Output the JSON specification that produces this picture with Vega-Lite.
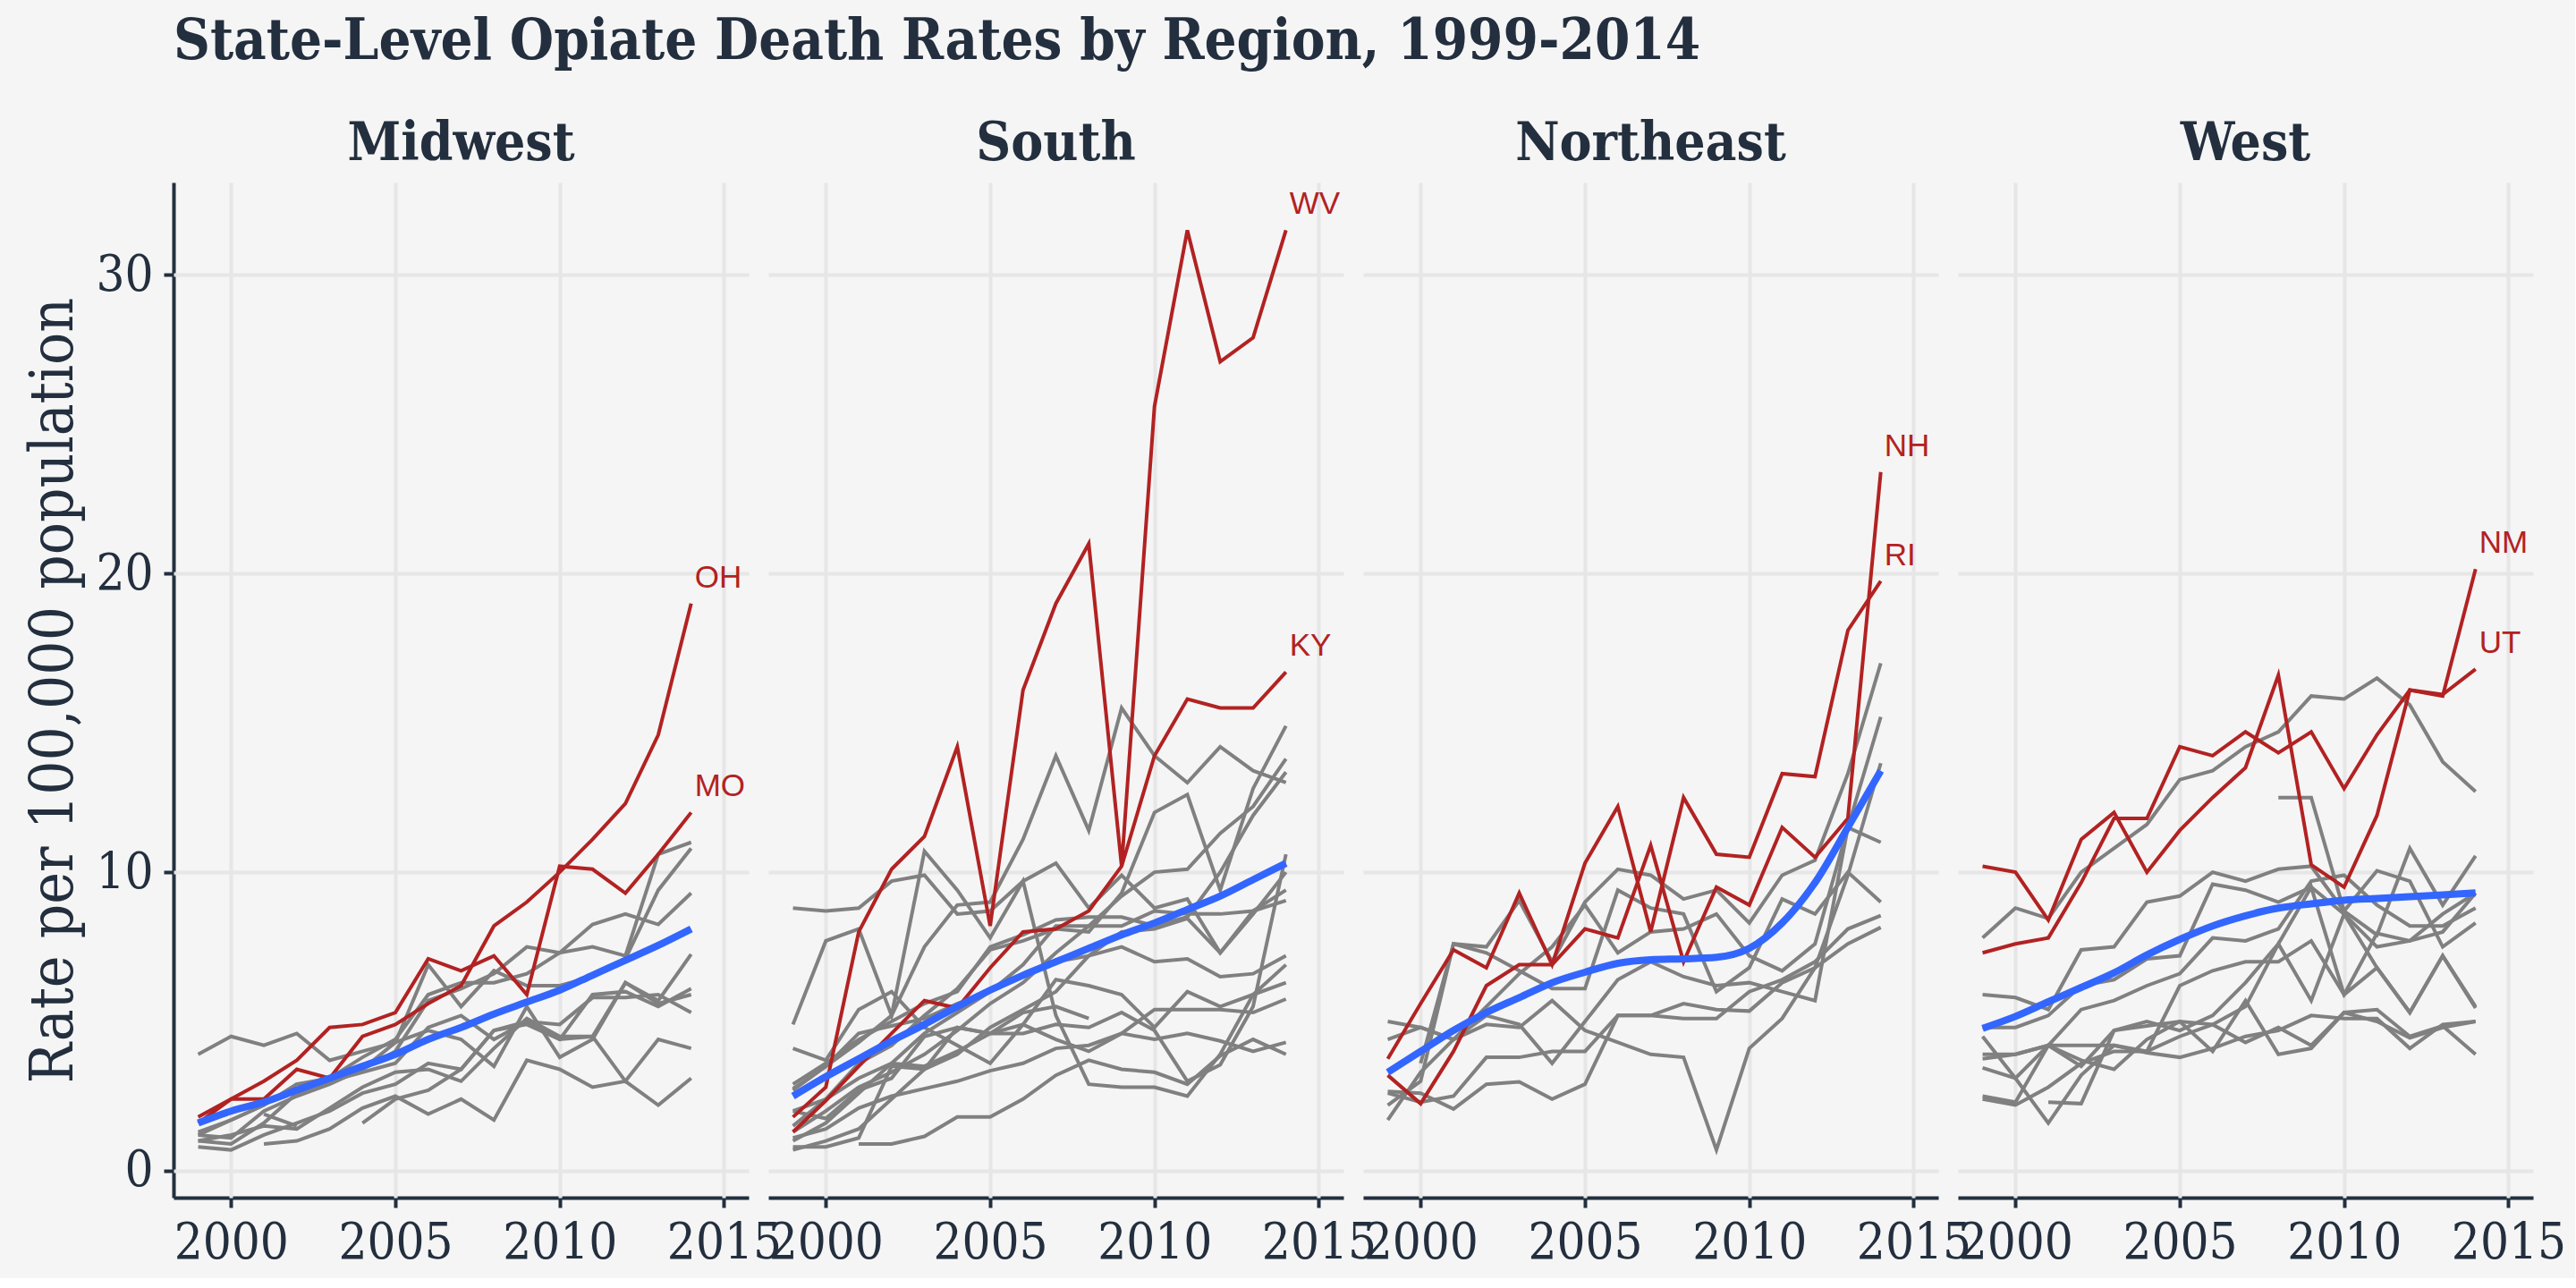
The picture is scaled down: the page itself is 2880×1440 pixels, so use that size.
{
  "$schema": "https://vega.github.io/schema/vega-lite/v6.json",
  "background": "#f5f5f5",
  "padding": {"left": 26, "top": 16, "right": 10, "bottom": 12},
  "title": {
    "text": "State-Level Opiate Death Rates by Region, 1999-2014",
    "anchor": "start",
    "frame": "group",
    "font": "DejaVu Serif Condensed, DejaVu Serif",
    "fontSize": 63,
    "fontWeight": "bold",
    "color": "#232f3e",
    "offset": 52
  },
  "datasets": {
    "states": [
      {"s": "OH", "r": "Midwest", "k": "red"}, {"s": "MO", "r": "Midwest", "k": "red"},
      {"s": "WI", "r": "Midwest", "k": "grey"}, {"s": "IL", "r": "Midwest", "k": "grey"},
      {"s": "IN", "r": "Midwest", "k": "grey"}, {"s": "MI", "r": "Midwest", "k": "grey"},
      {"s": "KS", "r": "Midwest", "k": "grey"}, {"s": "MN", "r": "Midwest", "k": "grey"},
      {"s": "IA", "r": "Midwest", "k": "grey"}, {"s": "NE", "r": "Midwest", "k": "grey"},
      {"s": "ND", "r": "Midwest", "k": "grey"}, {"s": "SD", "r": "Midwest", "k": "grey"},
      {"s": "T-MW", "r": "Midwest", "k": "trend"},
      {"s": "WV", "r": "South", "k": "red"}, {"s": "KY", "r": "South", "k": "red"},
      {"s": "FL", "r": "South", "k": "grey"}, {"s": "TN", "r": "South", "k": "grey"},
      {"s": "MD", "r": "South", "k": "grey"}, {"s": "DE", "r": "South", "k": "grey"},
      {"s": "OK", "r": "South", "k": "grey"}, {"s": "DC", "r": "South", "k": "grey"},
      {"s": "LA", "r": "South", "k": "grey"}, {"s": "TX", "r": "South", "k": "grey"},
      {"s": "AR", "r": "South", "k": "grey"}, {"s": "MS", "r": "South", "k": "grey"},
      {"s": "GA", "r": "South", "k": "grey"}, {"s": "AL", "r": "South", "k": "grey"},
      {"s": "SC", "r": "South", "k": "grey"}, {"s": "NC", "r": "South", "k": "grey"},
      {"s": "VA", "r": "South", "k": "grey"},
      {"s": "T-S", "r": "South", "k": "trend"},
      {"s": "NH", "r": "Northeast", "k": "red"}, {"s": "RI", "r": "Northeast", "k": "red"},
      {"s": "NY", "r": "Northeast", "k": "grey"}, {"s": "MA", "r": "Northeast", "k": "grey"},
      {"s": "VT", "r": "Northeast", "k": "grey"}, {"s": "ME", "r": "Northeast", "k": "grey"},
      {"s": "CT", "r": "Northeast", "k": "grey"}, {"s": "PA", "r": "Northeast", "k": "grey"},
      {"s": "NJ", "r": "Northeast", "k": "grey"},
      {"s": "T-NE", "r": "Northeast", "k": "trend"},
      {"s": "NM", "r": "West", "k": "red"}, {"s": "UT", "r": "West", "k": "red"},
      {"s": "WA", "r": "West", "k": "grey"}, {"s": "OR", "r": "West", "k": "grey"},
      {"s": "CO", "r": "West", "k": "grey"}, {"s": "ID", "r": "West", "k": "grey"},
      {"s": "CA", "r": "West", "k": "grey"}, {"s": "WY", "r": "West", "k": "grey"},
      {"s": "AZ", "r": "West", "k": "grey"}, {"s": "MT", "r": "West", "k": "grey"},
      {"s": "HI", "r": "West", "k": "grey"}, {"s": "AK", "r": "West", "k": "grey"},
      {"s": "NV", "r": "West", "k": "grey"},
      {"s": "T-W", "r": "West", "k": "trend"}
    ],
    "rates": [
      {"s":"OH","y":1999,"v":1.6},{"s":"OH","y":2000,"v":2.4},{"s":"OH","y":2001,"v":2.4},{"s":"OH","y":2002,"v":3.4},{"s":"OH","y":2003,"v":3.1},{"s":"OH","y":2004,"v":4.5},{"s":"OH","y":2005,"v":4.9},{"s":"OH","y":2006,"v":5.6},{"s":"OH","y":2007,"v":6.2},{"s":"OH","y":2008,"v":8.2},{"s":"OH","y":2009,"v":9.0},{"s":"OH","y":2010,"v":10.0},{"s":"OH","y":2011,"v":11.1},{"s":"OH","y":2012,"v":12.3},{"s":"OH","y":2013,"v":14.6},{"s":"OH","y":2014,"v":19.0},
      {"s":"MO","y":1999,"v":1.8},{"s":"MO","y":2000,"v":2.4},{"s":"MO","y":2001,"v":3.0},{"s":"MO","y":2002,"v":3.7},{"s":"MO","y":2003,"v":4.8},{"s":"MO","y":2004,"v":4.9},{"s":"MO","y":2005,"v":5.3},{"s":"MO","y":2006,"v":7.1},{"s":"MO","y":2007,"v":6.7},{"s":"MO","y":2008,"v":7.2},{"s":"MO","y":2009,"v":5.9},{"s":"MO","y":2010,"v":10.2},{"s":"MO","y":2011,"v":10.1},{"s":"MO","y":2012,"v":9.3},{"s":"MO","y":2013,"v":10.6},{"s":"MO","y":2014,"v":12.0},
      {"s":"WI","y":1999,"v":3.9},{"s":"WI","y":2000,"v":4.5},{"s":"WI","y":2001,"v":4.2},{"s":"WI","y":2002,"v":4.6},{"s":"WI","y":2003,"v":3.7},{"s":"WI","y":2004,"v":4.0},{"s":"WI","y":2005,"v":4.3},{"s":"WI","y":2006,"v":4.7},{"s":"WI","y":2007,"v":4.4},{"s":"WI","y":2008,"v":3.5},{"s":"WI","y":2009,"v":5.5},{"s":"WI","y":2010,"v":3.8},{"s":"WI","y":2011,"v":4.4},{"s":"WI","y":2012,"v":6.3},{"s":"WI","y":2013,"v":5.6},{"s":"WI","y":2014,"v":5.9},
      {"s":"IL","y":1999,"v":1.2},{"s":"IL","y":2000,"v":1.1},{"s":"IL","y":2001,"v":2.0},{"s":"IL","y":2002,"v":2.5},{"s":"IL","y":2003,"v":2.9},{"s":"IL","y":2004,"v":3.4},{"s":"IL","y":2005,"v":4.0},{"s":"IL","y":2006,"v":5.7},{"s":"IL","y":2007,"v":6.1},{"s":"IL","y":2008,"v":6.6},{"s":"IL","y":2009,"v":7.5},{"s":"IL","y":2010,"v":7.3},{"s":"IL","y":2011,"v":7.5},{"s":"IL","y":2012,"v":7.2},{"s":"IL","y":2013,"v":10.6},{"s":"IL","y":2014,"v":11.0},
      {"s":"IN","y":1999,"v":1.0},{"s":"IN","y":2000,"v":0.9},{"s":"IN","y":2001,"v":1.6},{"s":"IN","y":2002,"v":2.6},{"s":"IN","y":2003,"v":3.0},{"s":"IN","y":2004,"v":3.4},{"s":"IN","y":2005,"v":4.3},{"s":"IN","y":2006,"v":6.9},{"s":"IN","y":2007,"v":5.5},{"s":"IN","y":2008,"v":6.7},{"s":"IN","y":2009,"v":6.2},{"s":"IN","y":2010,"v":6.2},{"s":"IN","y":2011,"v":6.5},{"s":"IN","y":2012,"v":7.1},{"s":"IN","y":2013,"v":9.4},{"s":"IN","y":2014,"v":10.8},
      {"s":"MI","y":1999,"v":1.3},{"s":"MI","y":2000,"v":1.7},{"s":"MI","y":2001,"v":2.2},{"s":"MI","y":2002,"v":2.9},{"s":"MI","y":2003,"v":3.1},{"s":"MI","y":2004,"v":3.8},{"s":"MI","y":2005,"v":4.4},{"s":"MI","y":2006,"v":5.9},{"s":"MI","y":2007,"v":6.3},{"s":"MI","y":2008,"v":6.3},{"s":"MI","y":2009,"v":6.6},{"s":"MI","y":2010,"v":7.3},{"s":"MI","y":2011,"v":8.25},{"s":"MI","y":2012,"v":8.6},{"s":"MI","y":2013,"v":8.25},{"s":"MI","y":2014,"v":9.3},
      {"s":"KS","y":1999,"v":1.2},{"s":"KS","y":2000,"v":1.7},{"s":"KS","y":2001,"v":2.2},{"s":"KS","y":2002,"v":2.9},{"s":"KS","y":2003,"v":3.0},{"s":"KS","y":2004,"v":3.3},{"s":"KS","y":2005,"v":3.6},{"s":"KS","y":2006,"v":4.8},{"s":"KS","y":2007,"v":5.2},{"s":"KS","y":2008,"v":4.4},{"s":"KS","y":2009,"v":5.0},{"s":"KS","y":2010,"v":4.4},{"s":"KS","y":2011,"v":4.5},{"s":"KS","y":2012,"v":6.3},{"s":"KS","y":2013,"v":5.7},{"s":"KS","y":2014,"v":7.25},
      {"s":"MN","y":1999,"v":0.8},{"s":"MN","y":2000,"v":0.7},{"s":"MN","y":2001,"v":1.2},{"s":"MN","y":2002,"v":1.6},{"s":"MN","y":2003,"v":2.0},{"s":"MN","y":2004,"v":2.6},{"s":"MN","y":2005,"v":2.9},{"s":"MN","y":2006,"v":3.6},{"s":"MN","y":2007,"v":3.4},{"s":"MN","y":2008,"v":4.7},{"s":"MN","y":2009,"v":5.0},{"s":"MN","y":2010,"v":4.9},{"s":"MN","y":2011,"v":5.8},{"s":"MN","y":2012,"v":5.8},{"s":"MN","y":2013,"v":5.9},{"s":"MN","y":2014,"v":5.3},
      {"s":"IA","y":1999,"v":1.0},{"s":"IA","y":2000,"v":1.2},{"s":"IA","y":2001,"v":1.5},{"s":"IA","y":2002,"v":1.4},{"s":"IA","y":2003,"v":2.1},{"s":"IA","y":2004,"v":2.8},{"s":"IA","y":2005,"v":3.3},{"s":"IA","y":2006,"v":3.4},{"s":"IA","y":2007,"v":3.0},{"s":"IA","y":2008,"v":4.1},{"s":"IA","y":2009,"v":5.1},{"s":"IA","y":2010,"v":4.5},{"s":"IA","y":2011,"v":4.5},{"s":"IA","y":2012,"v":3.0},{"s":"IA","y":2013,"v":4.4},{"s":"IA","y":2014,"v":4.1},
      {"s":"NE","y":2001,"v":0.9},{"s":"NE","y":2002,"v":1.0},{"s":"NE","y":2003,"v":1.4},{"s":"NE","y":2004,"v":2.1},{"s":"NE","y":2005,"v":2.5},{"s":"NE","y":2006,"v":1.9},{"s":"NE","y":2007,"v":2.4},{"s":"NE","y":2008,"v":1.7},{"s":"NE","y":2009,"v":3.7},{"s":"NE","y":2010,"v":3.4},{"s":"NE","y":2011,"v":2.8},{"s":"NE","y":2012,"v":3.0},{"s":"NE","y":2013,"v":2.2},{"s":"NE","y":2014,"v":3.1},
      {"s":"ND","y":2004,"v":1.6},{"s":"ND","y":2005,"v":2.4},{"s":"ND","y":2006,"v":2.7},{"s":"ND","y":2007,"v":3.4},{"s":"ND","y":2008,"v":4.7},{"s":"ND","y":2009,"v":4.9},{"s":"ND","y":2010,"v":4.4},{"s":"ND","y":2011,"v":5.9},{"s":"ND","y":2012,"v":6.0},{"s":"ND","y":2013,"v":5.5},{"s":"ND","y":2014,"v":6.1},
      {"s":"SD","y":2001,"v":1.9},{"s":"SD","y":2002,"v":1.5},
      {"s":"T-MW","y":1999,"v":1.6},{"s":"T-MW","y":2000,"v":2.0},{"s":"T-MW","y":2001,"v":2.3},{"s":"T-MW","y":2002,"v":2.7},{"s":"T-MW","y":2003,"v":3.1},{"s":"T-MW","y":2004,"v":3.5},{"s":"T-MW","y":2005,"v":3.9},{"s":"T-MW","y":2006,"v":4.4},{"s":"T-MW","y":2007,"v":4.8},{"s":"T-MW","y":2008,"v":5.25},{"s":"T-MW","y":2009,"v":5.65},{"s":"T-MW","y":2010,"v":6.05},{"s":"T-MW","y":2011,"v":6.55},{"s":"T-MW","y":2012,"v":7.05},{"s":"T-MW","y":2013,"v":7.55},{"s":"T-MW","y":2014,"v":8.1},
      {"s":"WV","y":1999,"v":1.8},{"s":"WV","y":2000,"v":2.8},{"s":"WV","y":2001,"v":8.0},{"s":"WV","y":2002,"v":10.1},{"s":"WV","y":2003,"v":11.2},{"s":"WV","y":2004,"v":14.2},{"s":"WV","y":2005,"v":8.2},{"s":"WV","y":2006,"v":16.1},{"s":"WV","y":2007,"v":19.0},{"s":"WV","y":2008,"v":21.0},{"s":"WV","y":2009,"v":10.2},{"s":"WV","y":2010,"v":25.6},{"s":"WV","y":2011,"v":31.5},{"s":"WV","y":2012,"v":27.1},{"s":"WV","y":2013,"v":27.9},{"s":"WV","y":2014,"v":31.5},
      {"s":"KY","y":1999,"v":1.3},{"s":"KY","y":2000,"v":2.35},{"s":"KY","y":2001,"v":3.5},{"s":"KY","y":2002,"v":4.6},{"s":"KY","y":2003,"v":5.7},{"s":"KY","y":2004,"v":5.45},{"s":"KY","y":2005,"v":6.8},{"s":"KY","y":2006,"v":8.0},{"s":"KY","y":2007,"v":8.1},{"s":"KY","y":2008,"v":8.7},{"s":"KY","y":2009,"v":10.2},{"s":"KY","y":2010,"v":13.9},{"s":"KY","y":2011,"v":15.8},{"s":"KY","y":2012,"v":15.5},{"s":"KY","y":2013,"v":15.5},{"s":"KY","y":2014,"v":16.7},
      {"s":"FL","y":1999,"v":2.7},{"s":"FL","y":2000,"v":3.5},{"s":"FL","y":2001,"v":4.3},{"s":"FL","y":2002,"v":5.2},{"s":"FL","y":2003,"v":7.5},{"s":"FL","y":2004,"v":8.9},{"s":"FL","y":2005,"v":9.0},{"s":"FL","y":2006,"v":11.1},{"s":"FL","y":2007,"v":13.9},{"s":"FL","y":2008,"v":11.4},{"s":"FL","y":2009,"v":15.5},{"s":"FL","y":2010,"v":13.9},{"s":"FL","y":2011,"v":13.0},{"s":"FL","y":2012,"v":14.2},{"s":"FL","y":2013,"v":13.4},{"s":"FL","y":2014,"v":13.0},
      {"s":"TN","y":1999,"v":8.8},{"s":"TN","y":2000,"v":8.7},{"s":"TN","y":2001,"v":8.8},{"s":"TN","y":2002,"v":9.7},{"s":"TN","y":2003,"v":9.9},{"s":"TN","y":2004,"v":8.6},{"s":"TN","y":2005,"v":8.7},{"s":"TN","y":2006,"v":9.7},{"s":"TN","y":2007,"v":10.3},{"s":"TN","y":2008,"v":8.8},{"s":"TN","y":2009,"v":9.9},{"s":"TN","y":2010,"v":8.8},{"s":"TN","y":2011,"v":9.1},{"s":"TN","y":2012,"v":7.3},{"s":"TN","y":2013,"v":8.6},{"s":"TN","y":2014,"v":10.0},
      {"s":"MD","y":1999,"v":1.5},{"s":"MD","y":2000,"v":2.4},{"s":"MD","y":2001,"v":3.6},{"s":"MD","y":2002,"v":4.2},{"s":"MD","y":2003,"v":5.2},{"s":"MD","y":2004,"v":6.1},{"s":"MD","y":2005,"v":7.4},{"s":"MD","y":2006,"v":7.7},{"s":"MD","y":2007,"v":8.1},{"s":"MD","y":2008,"v":8.0},{"s":"MD","y":2009,"v":9.3},{"s":"MD","y":2010,"v":12.0},{"s":"MD","y":2011,"v":12.6},{"s":"MD","y":2012,"v":9.4},{"s":"MD","y":2013,"v":12.8},{"s":"MD","y":2014,"v":14.9},
      {"s":"DE","y":1999,"v":1.3},{"s":"DE","y":2000,"v":2.0},{"s":"DE","y":2001,"v":2.8},{"s":"DE","y":2002,"v":3.3},{"s":"DE","y":2003,"v":3.9},{"s":"DE","y":2004,"v":4.7},{"s":"DE","y":2005,"v":5.6},{"s":"DE","y":2006,"v":6.3},{"s":"DE","y":2007,"v":7.3},{"s":"DE","y":2008,"v":8.2},{"s":"DE","y":2009,"v":9.2},{"s":"DE","y":2010,"v":10.0},{"s":"DE","y":2011,"v":10.1},{"s":"DE","y":2012,"v":11.3},{"s":"DE","y":2013,"v":12.2},{"s":"DE","y":2014,"v":13.8},
      {"s":"OK","y":1999,"v":2.9},{"s":"OK","y":2000,"v":3.6},{"s":"OK","y":2001,"v":4.4},{"s":"OK","y":2002,"v":5.0},{"s":"OK","y":2003,"v":5.6},{"s":"OK","y":2004,"v":6.0},{"s":"OK","y":2005,"v":7.5},{"s":"OK","y":2006,"v":7.9},{"s":"OK","y":2007,"v":8.4},{"s":"OK","y":2008,"v":8.5},{"s":"OK","y":2009,"v":8.5},{"s":"OK","y":2010,"v":8.2},{"s":"OK","y":2011,"v":8.5},{"s":"OK","y":2012,"v":10.0},{"s":"OK","y":2013,"v":11.9},{"s":"OK","y":2014,"v":13.35},
      {"s":"DC","y":1999,"v":2.0},{"s":"DC","y":2000,"v":2.4},{"s":"DC","y":2001,"v":3.1},{"s":"DC","y":2002,"v":3.6},{"s":"DC","y":2003,"v":3.5},{"s":"DC","y":2004,"v":4.0},{"s":"DC","y":2005,"v":4.6},{"s":"DC","y":2006,"v":4.6},{"s":"DC","y":2007,"v":4.9},{"s":"DC","y":2008,"v":4.8},{"s":"DC","y":2009,"v":5.3},{"s":"DC","y":2010,"v":4.7},{"s":"DC","y":2011,"v":3.0},{"s":"DC","y":2012,"v":3.55},{"s":"DC","y":2013,"v":5.5},{"s":"DC","y":2014,"v":10.6},
      {"s":"LA","y":1999,"v":4.9},{"s":"LA","y":2000,"v":7.7},{"s":"LA","y":2001,"v":8.1},{"s":"LA","y":2002,"v":5.2},{"s":"LA","y":2003,"v":10.7},{"s":"LA","y":2004,"v":9.4},{"s":"LA","y":2005,"v":7.8},{"s":"LA","y":2006,"v":9.7},{"s":"LA","y":2007,"v":5.2},{"s":"LA","y":2008,"v":2.9},{"s":"LA","y":2009,"v":2.8},{"s":"LA","y":2010,"v":2.8},{"s":"LA","y":2011,"v":2.5},{"s":"LA","y":2012,"v":3.9},{"s":"LA","y":2013,"v":5.9},{"s":"LA","y":2014,"v":6.9},
      {"s":"TX","y":1999,"v":4.1},{"s":"TX","y":2000,"v":3.7},{"s":"TX","y":2001,"v":5.4},{"s":"TX","y":2002,"v":6.0},{"s":"TX","y":2003,"v":4.8},{"s":"TX","y":2004,"v":4.2},{"s":"TX","y":2005,"v":3.6},{"s":"TX","y":2006,"v":4.9},{"s":"TX","y":2007,"v":4.4},{"s":"TX","y":2008,"v":4.0},{"s":"TX","y":2009,"v":4.6},{"s":"TX","y":2010,"v":4.4},{"s":"TX","y":2011,"v":4.6},{"s":"TX","y":2012,"v":4.35},{"s":"TX","y":2013,"v":4.0},{"s":"TX","y":2014,"v":4.3},
      {"s":"AR","y":1999,"v":0.8},{"s":"AR","y":2000,"v":0.8},{"s":"AR","y":2001,"v":1.1},{"s":"AR","y":2002,"v":3.5},{"s":"AR","y":2003,"v":3.4},{"s":"AR","y":2004,"v":4.8},{"s":"AR","y":2005,"v":4.6},{"s":"AR","y":2006,"v":5.3},{"s":"AR","y":2007,"v":5.5},{"s":"AR","y":2008,"v":5.1},
      {"s":"MS","y":2001,"v":0.9},{"s":"MS","y":2002,"v":0.9},{"s":"MS","y":2003,"v":1.15},{"s":"MS","y":2004,"v":1.8},{"s":"MS","y":2005,"v":1.8},{"s":"MS","y":2006,"v":2.4},{"s":"MS","y":2007,"v":3.2},{"s":"MS","y":2008,"v":3.7},{"s":"MS","y":2009,"v":3.4},{"s":"MS","y":2010,"v":3.3},{"s":"MS","y":2011,"v":2.9},{"s":"MS","y":2012,"v":3.85},{"s":"MS","y":2013,"v":4.4},{"s":"MS","y":2014,"v":3.9},
      {"s":"GA","y":1999,"v":1.1},{"s":"GA","y":2000,"v":1.4},{"s":"GA","y":2001,"v":2.1},{"s":"GA","y":2002,"v":2.5},{"s":"GA","y":2003,"v":2.75},{"s":"GA","y":2004,"v":3.0},{"s":"GA","y":2005,"v":3.35},{"s":"GA","y":2006,"v":3.6},{"s":"GA","y":2007,"v":4.1},{"s":"GA","y":2008,"v":4.2},{"s":"GA","y":2009,"v":4.6},{"s":"GA","y":2010,"v":5.4},{"s":"GA","y":2011,"v":5.4},{"s":"GA","y":2012,"v":5.4},{"s":"GA","y":2013,"v":5.3},{"s":"GA","y":2014,"v":5.75},
      {"s":"AL","y":1999,"v":2.0},{"s":"AL","y":2000,"v":1.75},{"s":"AL","y":2001,"v":2.7},{"s":"AL","y":2002,"v":3.1},{"s":"AL","y":2003,"v":4.5},{"s":"AL","y":2004,"v":4.8},{"s":"AL","y":2005,"v":4.6},{"s":"AL","y":2006,"v":4.9},{"s":"AL","y":2007,"v":6.4},{"s":"AL","y":2008,"v":6.2},{"s":"AL","y":2009,"v":5.9},{"s":"AL","y":2010,"v":4.8},{"s":"AL","y":2011,"v":6.0},{"s":"AL","y":2012,"v":5.5},{"s":"AL","y":2013,"v":5.9},{"s":"AL","y":2014,"v":6.3},
      {"s":"SC","y":1999,"v":2.75},{"s":"SC","y":2000,"v":3.5},{"s":"SC","y":2001,"v":4.6},{"s":"SC","y":2002,"v":4.85},{"s":"SC","y":2003,"v":5.1},{"s":"SC","y":2004,"v":5.6},{"s":"SC","y":2005,"v":6.0},{"s":"SC","y":2006,"v":6.5},{"s":"SC","y":2007,"v":7.0},{"s":"SC","y":2008,"v":7.2},{"s":"SC","y":2009,"v":7.5},{"s":"SC","y":2010,"v":7.0},{"s":"SC","y":2011,"v":7.1},{"s":"SC","y":2012,"v":6.5},{"s":"SC","y":2013,"v":6.6},{"s":"SC","y":2014,"v":7.2},
      {"s":"NC","y":1999,"v":1.0},{"s":"NC","y":2000,"v":1.6},{"s":"NC","y":2001,"v":2.6},{"s":"NC","y":2002,"v":3.6},{"s":"NC","y":2003,"v":4.6},{"s":"NC","y":2004,"v":5.3},{"s":"NC","y":2005,"v":6.0},{"s":"NC","y":2006,"v":6.9},{"s":"NC","y":2007,"v":8.2},{"s":"NC","y":2008,"v":8.2},{"s":"NC","y":2009,"v":8.2},{"s":"NC","y":2010,"v":8.7},{"s":"NC","y":2011,"v":8.6},{"s":"NC","y":2012,"v":8.6},{"s":"NC","y":2013,"v":8.7},{"s":"NC","y":2014,"v":9.4},
      {"s":"VA","y":1999,"v":0.7},{"s":"VA","y":2000,"v":1.0},{"s":"VA","y":2001,"v":1.4},{"s":"VA","y":2002,"v":2.4},{"s":"VA","y":2003,"v":3.4},{"s":"VA","y":2004,"v":3.9},{"s":"VA","y":2005,"v":4.8},{"s":"VA","y":2006,"v":5.4},{"s":"VA","y":2007,"v":6.0},{"s":"VA","y":2008,"v":7.2},{"s":"VA","y":2009,"v":8.0},{"s":"VA","y":2010,"v":8.1},{"s":"VA","y":2011,"v":8.45},{"s":"VA","y":2012,"v":7.3},{"s":"VA","y":2013,"v":8.7},{"s":"VA","y":2014,"v":9.05},
      {"s":"T-S","y":1999,"v":2.5},{"s":"T-S","y":2000,"v":3.15},{"s":"T-S","y":2001,"v":3.75},{"s":"T-S","y":2002,"v":4.35},{"s":"T-S","y":2003,"v":4.9},{"s":"T-S","y":2004,"v":5.5},{"s":"T-S","y":2005,"v":6.05},{"s":"T-S","y":2006,"v":6.55},{"s":"T-S","y":2007,"v":7.0},{"s":"T-S","y":2008,"v":7.45},{"s":"T-S","y":2009,"v":7.9},{"s":"T-S","y":2010,"v":8.3},{"s":"T-S","y":2011,"v":8.75},{"s":"T-S","y":2012,"v":9.2},{"s":"T-S","y":2013,"v":9.75},{"s":"T-S","y":2014,"v":10.3},
      {"s":"NH","y":1999,"v":3.2},{"s":"NH","y":2000,"v":2.25},{"s":"NH","y":2001,"v":4.0},{"s":"NH","y":2002,"v":6.2},{"s":"NH","y":2003,"v":6.9},{"s":"NH","y":2004,"v":6.9},{"s":"NH","y":2005,"v":8.1},{"s":"NH","y":2006,"v":7.8},{"s":"NH","y":2007,"v":10.9},{"s":"NH","y":2008,"v":7.0},{"s":"NH","y":2009,"v":9.5},{"s":"NH","y":2010,"v":8.9},{"s":"NH","y":2011,"v":11.5},{"s":"NH","y":2012,"v":10.5},{"s":"NH","y":2013,"v":11.8},{"s":"NH","y":2014,"v":23.4},
      {"s":"RI","y":1999,"v":3.75},{"s":"RI","y":2000,"v":5.6},{"s":"RI","y":2001,"v":7.4},{"s":"RI","y":2002,"v":6.8},{"s":"RI","y":2003,"v":9.3},{"s":"RI","y":2004,"v":6.9},{"s":"RI","y":2005,"v":10.3},{"s":"RI","y":2006,"v":12.2},{"s":"RI","y":2007,"v":8.0},{"s":"RI","y":2008,"v":12.5},{"s":"RI","y":2009,"v":10.6},{"s":"RI","y":2010,"v":10.5},{"s":"RI","y":2011,"v":13.3},{"s":"RI","y":2012,"v":13.2},{"s":"RI","y":2013,"v":18.1},{"s":"RI","y":2014,"v":19.75},
      {"s":"NY","y":2000,"v":3.6},{"s":"NY","y":2001,"v":7.6},{"s":"NY","y":2002,"v":7.5},{"s":"NY","y":2003,"v":9.05},{"s":"NY","y":2004,"v":7.0},{"s":"NY","y":2005,"v":9.0},{"s":"NY","y":2006,"v":10.1},{"s":"NY","y":2007,"v":9.9},{"s":"NY","y":2008,"v":9.1},{"s":"NY","y":2009,"v":9.4},{"s":"NY","y":2010,"v":8.3},{"s":"NY","y":2011,"v":9.9},{"s":"NY","y":2012,"v":10.4},{"s":"NY","y":2013,"v":13.3},{"s":"NY","y":2014,"v":17.0},
      {"s":"MA","y":1999,"v":4.4},{"s":"MA","y":2000,"v":4.8},{"s":"MA","y":2001,"v":4.4},{"s":"MA","y":2002,"v":5.5},{"s":"MA","y":2003,"v":6.6},{"s":"MA","y":2004,"v":7.5},{"s":"MA","y":2005,"v":8.9},{"s":"MA","y":2006,"v":7.3},{"s":"MA","y":2007,"v":8.0},{"s":"MA","y":2008,"v":8.1},{"s":"MA","y":2009,"v":8.6},{"s":"MA","y":2010,"v":7.2},{"s":"MA","y":2011,"v":6.7},{"s":"MA","y":2012,"v":7.6},{"s":"MA","y":2013,"v":11.5},{"s":"MA","y":2014,"v":15.2},
      {"s":"VT","y":1999,"v":1.7},{"s":"VT","y":2000,"v":3.3},{"s":"VT","y":2001,"v":4.4},{"s":"VT","y":2002,"v":4.9},{"s":"VT","y":2003,"v":4.8},{"s":"VT","y":2004,"v":5.7},{"s":"VT","y":2005,"v":4.7},{"s":"VT","y":2006,"v":4.3},{"s":"VT","y":2007,"v":3.9},{"s":"VT","y":2008,"v":3.8},{"s":"VT","y":2009,"v":0.7},{"s":"VT","y":2010,"v":4.1},{"s":"VT","y":2011,"v":5.1},{"s":"VT","y":2012,"v":6.8},{"s":"VT","y":2013,"v":9.9},{"s":"VT","y":2014,"v":13.65},
      {"s":"ME","y":1999,"v":5.0},{"s":"ME","y":2000,"v":4.8},{"s":"ME","y":2001,"v":4.4},{"s":"ME","y":2002,"v":5.2},{"s":"ME","y":2003,"v":4.9},{"s":"ME","y":2004,"v":3.6},{"s":"ME","y":2005,"v":5.0},{"s":"ME","y":2006,"v":6.4},{"s":"ME","y":2007,"v":7.0},{"s":"ME","y":2008,"v":6.5},{"s":"ME","y":2009,"v":6.2},{"s":"ME","y":2010,"v":6.3},{"s":"ME","y":2011,"v":6.0},{"s":"ME","y":2012,"v":5.7},{"s":"ME","y":2013,"v":11.5},{"s":"ME","y":2014,"v":11.0},
      {"s":"CT","y":1999,"v":2.2},{"s":"CT","y":2000,"v":3.0},{"s":"CT","y":2001,"v":7.6},{"s":"CT","y":2002,"v":7.3},{"s":"CT","y":2003,"v":6.7},{"s":"CT","y":2004,"v":6.1},{"s":"CT","y":2005,"v":6.1},{"s":"CT","y":2006,"v":9.4},{"s":"CT","y":2007,"v":8.8},{"s":"CT","y":2008,"v":8.6},{"s":"CT","y":2009,"v":6.0},{"s":"CT","y":2010,"v":6.8},{"s":"CT","y":2011,"v":9.1},{"s":"CT","y":2012,"v":8.6},{"s":"CT","y":2013,"v":10.0},{"s":"CT","y":2014,"v":9.0},
      {"s":"PA","y":1999,"v":2.6},{"s":"PA","y":2000,"v":2.3},{"s":"PA","y":2001,"v":2.5},{"s":"PA","y":2002,"v":3.8},{"s":"PA","y":2003,"v":3.8},{"s":"PA","y":2004,"v":4.0},{"s":"PA","y":2005,"v":4.0},{"s":"PA","y":2006,"v":5.2},{"s":"PA","y":2007,"v":5.2},{"s":"PA","y":2008,"v":5.1},{"s":"PA","y":2009,"v":5.1},{"s":"PA","y":2010,"v":6.0},{"s":"PA","y":2011,"v":6.4},{"s":"PA","y":2012,"v":7.0},{"s":"PA","y":2013,"v":8.1},{"s":"PA","y":2014,"v":8.55},
      {"s":"NJ","y":1999,"v":2.66},{"s":"NJ","y":2000,"v":2.6},{"s":"NJ","y":2001,"v":2.07},{"s":"NJ","y":2002,"v":2.9},{"s":"NJ","y":2003,"v":2.98},{"s":"NJ","y":2004,"v":2.4},{"s":"NJ","y":2005,"v":2.9},{"s":"NJ","y":2006,"v":5.2},{"s":"NJ","y":2007,"v":5.2},{"s":"NJ","y":2008,"v":5.6},{"s":"NJ","y":2009,"v":5.4},{"s":"NJ","y":2010,"v":5.35},{"s":"NJ","y":2011,"v":6.3},{"s":"NJ","y":2012,"v":6.8},{"s":"NJ","y":2013,"v":7.6},{"s":"NJ","y":2014,"v":8.15},
      {"s":"T-NE","y":1999,"v":3.3},{"s":"T-NE","y":2000,"v":4.0},{"s":"T-NE","y":2001,"v":4.7},{"s":"T-NE","y":2002,"v":5.3},{"s":"T-NE","y":2003,"v":5.8},{"s":"T-NE","y":2004,"v":6.3},{"s":"T-NE","y":2005,"v":6.65},{"s":"T-NE","y":2006,"v":6.95},{"s":"T-NE","y":2007,"v":7.07},{"s":"T-NE","y":2008,"v":7.1},{"s":"T-NE","y":2009,"v":7.15},{"s":"T-NE","y":2010,"v":7.45},{"s":"T-NE","y":2011,"v":8.3},{"s":"T-NE","y":2012,"v":9.65},{"s":"T-NE","y":2013,"v":11.5},{"s":"T-NE","y":2014,"v":13.4},
      {"s":"NM","y":1999,"v":10.2},{"s":"NM","y":2000,"v":10.0},{"s":"NM","y":2001,"v":8.4},{"s":"NM","y":2002,"v":11.1},{"s":"NM","y":2003,"v":12.0},{"s":"NM","y":2004,"v":10.0},{"s":"NM","y":2005,"v":11.4},{"s":"NM","y":2006,"v":12.5},{"s":"NM","y":2007,"v":13.5},{"s":"NM","y":2008,"v":16.6},{"s":"NM","y":2009,"v":10.25},{"s":"NM","y":2010,"v":9.5},{"s":"NM","y":2011,"v":11.9},{"s":"NM","y":2012,"v":16.1},{"s":"NM","y":2013,"v":15.9},{"s":"NM","y":2014,"v":20.15},
      {"s":"UT","y":1999,"v":7.3},{"s":"UT","y":2000,"v":7.6},{"s":"UT","y":2001,"v":7.8},{"s":"UT","y":2002,"v":9.65},{"s":"UT","y":2003,"v":11.8},{"s":"UT","y":2004,"v":11.8},{"s":"UT","y":2005,"v":14.2},{"s":"UT","y":2006,"v":13.9},{"s":"UT","y":2007,"v":14.7},{"s":"UT","y":2008,"v":14.0},{"s":"UT","y":2009,"v":14.7},{"s":"UT","y":2010,"v":12.8},{"s":"UT","y":2011,"v":14.6},{"s":"UT","y":2012,"v":16.1},{"s":"UT","y":2013,"v":15.95},{"s":"UT","y":2014,"v":16.8},
      {"s":"WA","y":1999,"v":7.8},{"s":"WA","y":2000,"v":8.8},{"s":"WA","y":2001,"v":8.45},{"s":"WA","y":2002,"v":10.0},{"s":"WA","y":2003,"v":10.8},{"s":"WA","y":2004,"v":11.6},{"s":"WA","y":2005,"v":13.1},{"s":"WA","y":2006,"v":13.4},{"s":"WA","y":2007,"v":14.2},{"s":"WA","y":2008,"v":14.7},{"s":"WA","y":2009,"v":15.9},{"s":"WA","y":2010,"v":15.8},{"s":"WA","y":2011,"v":16.5},{"s":"WA","y":2012,"v":15.6},{"s":"WA","y":2013,"v":13.7},{"s":"WA","y":2014,"v":12.7},
      {"s":"OR","y":1999,"v":5.9},{"s":"OR","y":2000,"v":5.8},{"s":"OR","y":2001,"v":5.4},{"s":"OR","y":2002,"v":7.4},{"s":"OR","y":2003,"v":7.5},{"s":"OR","y":2004,"v":9.0},{"s":"OR","y":2005,"v":9.2},{"s":"OR","y":2006,"v":10.0},{"s":"OR","y":2007,"v":9.7},{"s":"OR","y":2008,"v":10.1},{"s":"OR","y":2009,"v":10.2},{"s":"OR","y":2010,"v":8.7},{"s":"OR","y":2011,"v":7.9},{"s":"OR","y":2012,"v":10.8},{"s":"OR","y":2013,"v":8.9},{"s":"OR","y":2014,"v":10.55},
      {"s":"CO","y":1999,"v":4.8},{"s":"CO","y":2000,"v":4.8},{"s":"CO","y":2001,"v":5.2},{"s":"CO","y":2002,"v":6.2},{"s":"CO","y":2003,"v":6.4},{"s":"CO","y":2004,"v":7.1},{"s":"CO","y":2005,"v":7.2},{"s":"CO","y":2006,"v":9.6},{"s":"CO","y":2007,"v":9.4},{"s":"CO","y":2008,"v":9.0},{"s":"CO","y":2009,"v":9.5},{"s":"CO","y":2010,"v":8.6},{"s":"CO","y":2011,"v":7.5},{"s":"CO","y":2012,"v":7.7},{"s":"CO","y":2013,"v":8.0},{"s":"CO","y":2014,"v":9.3},
      {"s":"ID","y":1999,"v":4.5},{"s":"ID","y":2000,"v":3.1},{"s":"ID","y":2001,"v":1.6},{"s":"ID","y":2002,"v":3.2},{"s":"ID","y":2003,"v":4.2},{"s":"ID","y":2004,"v":4.0},{"s":"ID","y":2005,"v":4.5},{"s":"ID","y":2006,"v":4.9},{"s":"ID","y":2007,"v":5.5},{"s":"ID","y":2008,"v":7.6},{"s":"ID","y":2009,"v":5.7},{"s":"ID","y":2010,"v":8.6},{"s":"ID","y":2011,"v":6.8},{"s":"ID","y":2012,"v":5.3},{"s":"ID","y":2013,"v":7.2},{"s":"ID","y":2014,"v":5.5},
      {"s":"CA","y":1999,"v":3.75},{"s":"CA","y":2000,"v":3.9},{"s":"CA","y":2001,"v":4.2},{"s":"CA","y":2002,"v":4.2},{"s":"CA","y":2003,"v":4.2},{"s":"CA","y":2004,"v":3.95},{"s":"CA","y":2005,"v":3.8},{"s":"CA","y":2006,"v":4.1},{"s":"CA","y":2007,"v":4.5},{"s":"CA","y":2008,"v":4.7},{"s":"CA","y":2009,"v":5.2},{"s":"CA","y":2010,"v":5.1},{"s":"CA","y":2011,"v":5.1},{"s":"CA","y":2012,"v":4.1},{"s":"CA","y":2013,"v":4.9},{"s":"CA","y":2014,"v":5.0},
      {"s":"WY","y":1999,"v":2.5},{"s":"WY","y":2000,"v":2.3},{"s":"WY","y":2001,"v":4.2},{"s":"WY","y":2002,"v":3.5},{"s":"WY","y":2003,"v":4.7},{"s":"WY","y":2004,"v":5.0},{"s":"WY","y":2005,"v":4.7},{"s":"WY","y":2006,"v":5.2},{"s":"WY","y":2007,"v":6.3},{"s":"WY","y":2008,"v":7.6},{"s":"WY","y":2009,"v":9.5},{"s":"WY","y":2010,"v":5.9},{"s":"WY","y":2011,"v":6.8},{"s":"WY","y":2012,"v":5.3},{"s":"WY","y":2013,"v":7.2},{"s":"WY","y":2014,"v":5.45},
      {"s":"AZ","y":1999,"v":3.45},{"s":"AZ","y":2000,"v":3.1},{"s":"AZ","y":2001,"v":4.2},{"s":"AZ","y":2002,"v":5.4},{"s":"AZ","y":2003,"v":5.7},{"s":"AZ","y":2004,"v":6.2},{"s":"AZ","y":2005,"v":6.6},{"s":"AZ","y":2006,"v":7.8},{"s":"AZ","y":2007,"v":7.7},{"s":"AZ","y":2008,"v":8.1},{"s":"AZ","y":2009,"v":9.7},{"s":"AZ","y":2010,"v":9.9},{"s":"AZ","y":2011,"v":8.9},{"s":"AZ","y":2012,"v":8.2},{"s":"AZ","y":2013,"v":8.2},{"s":"AZ","y":2014,"v":8.8},
      {"s":"MT","y":1999,"v":2.4},{"s":"MT","y":2000,"v":2.2},{"s":"MT","y":2001,"v":2.8},{"s":"MT","y":2002,"v":3.6},{"s":"MT","y":2003,"v":4.0},{"s":"MT","y":2004,"v":4.0},{"s":"MT","y":2005,"v":6.2},{"s":"MT","y":2006,"v":6.7},{"s":"MT","y":2007,"v":7.0},{"s":"MT","y":2008,"v":7.0},{"s":"MT","y":2009,"v":7.7},{"s":"MT","y":2010,"v":5.9},{"s":"MT","y":2011,"v":7.95},{"s":"MT","y":2012,"v":7.7},{"s":"MT","y":2013,"v":8.6},{"s":"MT","y":2014,"v":9.3},
      {"s":"HI","y":2001,"v":2.3},{"s":"HI","y":2002,"v":2.25},{"s":"HI","y":2003,"v":4.7},{"s":"HI","y":2004,"v":4.85},{"s":"HI","y":2005,"v":5.0},{"s":"HI","y":2006,"v":4.0},{"s":"HI","y":2007,"v":5.7},{"s":"HI","y":2008,"v":3.9},{"s":"HI","y":2009,"v":4.1},{"s":"HI","y":2010,"v":5.3},{"s":"HI","y":2011,"v":5.4},{"s":"HI","y":2012,"v":4.5},{"s":"HI","y":2013,"v":4.85},{"s":"HI","y":2014,"v":3.9},
      {"s":"AK","y":1999,"v":3.9},{"s":"AK","y":2000,"v":3.9},{"s":"AK","y":2001,"v":4.2},{"s":"AK","y":2002,"v":3.7},{"s":"AK","y":2003,"v":3.4},{"s":"AK","y":2004,"v":4.4},{"s":"AK","y":2005,"v":5.0},{"s":"AK","y":2006,"v":4.9},{"s":"AK","y":2007,"v":4.3},{"s":"AK","y":2008,"v":4.8},{"s":"AK","y":2009,"v":4.2},{"s":"AK","y":2010,"v":5.3},{"s":"AK","y":2011,"v":5.0},{"s":"AK","y":2012,"v":4.45},{"s":"AK","y":2013,"v":4.8},{"s":"AK","y":2014,"v":5.0},
      {"s":"NV","y":2008,"v":12.5},{"s":"NV","y":2009,"v":12.5},{"s":"NV","y":2010,"v":8.7},{"s":"NV","y":2011,"v":10.05},{"s":"NV","y":2012,"v":9.7},{"s":"NV","y":2013,"v":7.5},{"s":"NV","y":2014,"v":8.3},
      {"s":"T-W","y":1999,"v":4.77},{"s":"T-W","y":2000,"v":5.17},{"s":"T-W","y":2001,"v":5.66},{"s":"T-W","y":2002,"v":6.14},{"s":"T-W","y":2003,"v":6.63},{"s":"T-W","y":2004,"v":7.23},{"s":"T-W","y":2005,"v":7.75},{"s":"T-W","y":2006,"v":8.2},{"s":"T-W","y":2007,"v":8.54},{"s":"T-W","y":2008,"v":8.8},{"s":"T-W","y":2009,"v":8.94},{"s":"T-W","y":2010,"v":9.06},{"s":"T-W","y":2011,"v":9.12},{"s":"T-W","y":2012,"v":9.18},{"s":"T-W","y":2013,"v":9.24},{"s":"T-W","y":2014,"v":9.31}
    ]
  },
  "data": {"name": "rates"},
  "transform": [
    {"lookup": "s", "from": {"data": {"name": "states"}, "key": "s", "fields": ["r", "k"]}}
  ],
  "facet": {
    "column": {
      "field": "r",
      "type": "nominal",
      "sort": ["Midwest", "South", "Northeast", "West"],
      "title": null,
      "header": {
        "labelFont": "DejaVu Serif Condensed, DejaVu Serif",
        "labelFontSize": 60,
        "labelFontWeight": "bold",
        "labelColor": "#232f3e",
        "labelPadding": 12
      }
    }
  },
  "spacing": 22,
  "spec": {
    "width": 643,
    "height": 1135,
    "encoding": {
      "x": {
        "field": "y",
        "type": "quantitative",
        "scale": {"domain": [1998.25, 2015.75], "nice": false, "zero": false},
        "axis": {"values": [2000, 2005, 2010, 2015], "format": "d", "title": null}
      },
      "y": {
        "field": "v",
        "type": "quantitative",
        "scale": {"domain": [-0.9, 33.1], "nice": false, "zero": false},
        "axis": {"values": [0, 10, 20, 30], "title": "Rate per 100,000 population"}
      }
    },
    "layer": [
      {
        "transform": [{"filter": "datum.k == 'grey'"}],
        "mark": {"type": "line", "color": "#808080", "strokeWidth": 4},
        "encoding": {"detail": {"field": "s"}}
      },
      {
        "transform": [{"filter": "datum.k == 'red'"}],
        "mark": {"type": "line", "color": "#b22222", "strokeWidth": 4},
        "encoding": {"detail": {"field": "s"}}
      },
      {
        "transform": [{"filter": "datum.k == 'trend'"}],
        "mark": {"type": "line", "color": "#3366ff", "strokeWidth": 8, "interpolate": "monotone"},
        "encoding": {"detail": {"field": "s"}}
      },
      {
        "transform": [{"filter": "datum.k == 'red' && datum.y == 2014"}],
        "mark": {
          "type": "text",
          "align": "left",
          "baseline": "alphabetic",
          "dx": 4,
          "dy": -18,
          "font": "Liberation Sans",
          "fontSize": 35,
          "color": "#b22222"
        },
        "encoding": {"text": {"field": "s"}}
      }
    ]
  },
  "config": {
    "view": {"stroke": null},
    "axis": {
      "domainColor": "#232f3e",
      "domainWidth": 4,
      "tickColor": "#232f3e",
      "tickWidth": 4,
      "tickSize": 11,
      "gridColor": "#e6e6e6",
      "gridWidth": 4,
      "labelFont": "DejaVu Serif Condensed, DejaVu Serif",
      "labelFontSize": 56,
      "labelColor": "#232f3e",
      "labelPadding": 12,
      "titleFont": "DejaVu Serif Condensed, DejaVu Serif",
      "titleFontSize": 67,
      "titleFontWeight": "normal",
      "titleColor": "#232f3e",
      "titlePadding": 12
    }
  }
}
